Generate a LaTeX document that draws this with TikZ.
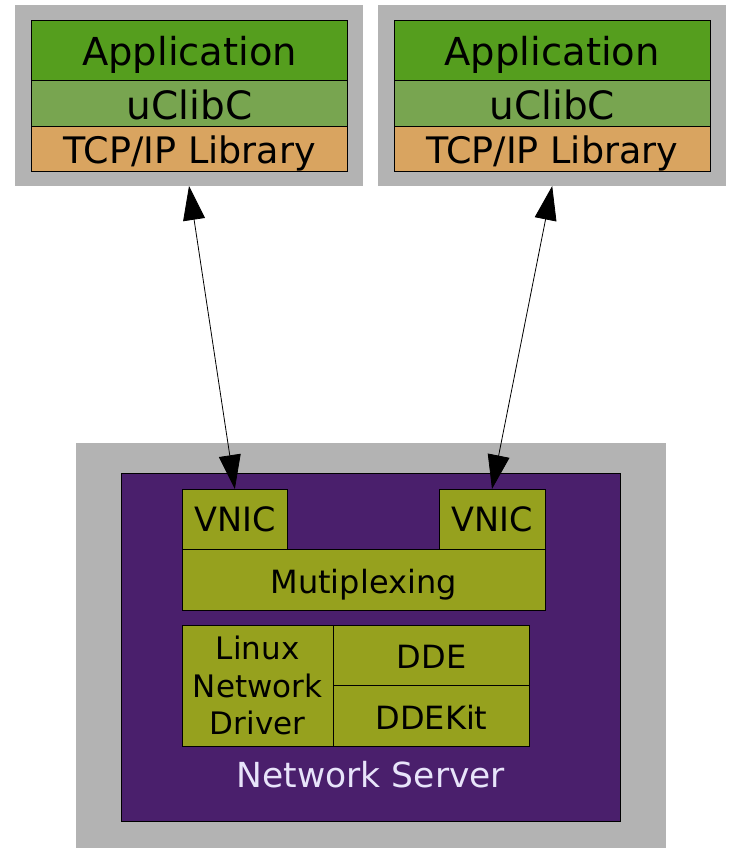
\documentclass[tikz,border=0pt]{standalone}
\usepackage{fontspec}
\setmainfont{DejaVu Sans}
\usetikzlibrary{arrows.meta}

\definecolor{shell}{HTML}{B3B3B3}
\definecolor{appgreen}{HTML}{559E1E}
\definecolor{libgreen}{HTML}{78A550}
\definecolor{tcporange}{HTML}{D9A460}
\definecolor{serverpurple}{HTML}{4A1F6C}
\definecolor{olive}{HTML}{96A11E}
\definecolor{lavender}{HTML}{E8E4FA}

\begin{document}
\begin{tikzpicture}[x=1pt,y=-1pt,
  shellbox/.style={fill=shell, inner sep=0pt, outer sep=0pt, anchor=north west},
  layer/.style={draw=black, line width=0.8pt, inner sep=0pt, outer sep=0pt,
                anchor=north west, text depth=0pt, align=center},
  bigtext/.style={font=\fontsize{38.5}{46}\selectfont},
  libtext/.style={font=\fontsize{39}{46}\selectfont},
  midtext/.style={font=\fontsize{36.5}{44}\selectfont},
  smalltext/.style={font=\fontsize{32}{38}\selectfont},
  vnictext/.style={font=\fontsize{33.5}{40}\selectfont},
  link/.style={line width=0.8pt, {Triangle[length=34pt,width=22pt]}-{Triangle[length=34pt,width=22pt]}}
]
\useasboundingbox (0,0) rectangle (729,848);

% client stacks
\node[shellbox, minimum width=348pt, minimum height=181pt] (clientL) at (15,5) {};
\node[layer, fill=appgreen, bigtext, minimum width=316pt, minimum height=59.6pt, text height=31pt] (appL) at (31.7,20.7) {Application};
\node[layer, fill=libgreen, libtext, minimum width=316pt, minimum height=46pt, text height=33.4pt] (libL) at (31.7,80.3) {uClibC};
\node[layer, fill=tcporange, midtext, minimum width=316pt, minimum height=45pt, text height=29pt] (tcpL) at (31.7,126.3) {TCP/IP Library};

\node[shellbox, minimum width=348pt, minimum height=181pt] (clientR) at (378.2,5) {};
\node[layer, fill=appgreen, bigtext, minimum width=316pt, minimum height=59.6pt, text height=31pt] (appR) at (394.2,20.7) {Application};
\node[layer, fill=libgreen, libtext, minimum width=316pt, minimum height=46pt, text height=33.4pt] (libR) at (394.2,80.3) {uClibC};
\node[layer, fill=tcporange, midtext, minimum width=316pt, minimum height=45pt, text height=29pt] (tcpR) at (394.2,126.3) {TCP/IP Library};

% network server
\node[shellbox, minimum width=589.7pt, minimum height=404.7pt] (serverShell) at (76,443.3) {};
\node[draw=black, line width=0.8pt, fill=serverpurple, inner sep=0pt, outer sep=0pt, anchor=north west,
      minimum width=499pt, minimum height=348.4pt] (server) at (121.3,473.3) {};

\node[layer, fill=olive, vnictext, minimum width=105.7pt, minimum height=60pt, text height=25.4pt] (vnicL) at (182,489) {VNIC};
\node[layer, fill=olive, vnictext, minimum width=106pt, minimum height=60pt, text height=25.4pt] (vnicR) at (439,489) {VNIC};
\node[layer, fill=olive, smalltext, minimum width=363pt, minimum height=61pt, text height=27.6pt] (mux) at (182,549) {Mutiplexing};

\node[draw=black, line width=0.8pt, inner sep=0pt, outer sep=0pt, anchor=north west, fill=olive,
      align=center, font=\fontsize{31}{37.5}\selectfont,
      minimum width=151.3pt, minimum height=121pt] (driver) at (182,625) {Linux\\Network\\Driver};
\node[layer, fill=olive, smalltext, minimum width=196.4pt, minimum height=60.7pt, text height=26pt] (dde) at (333.3,625) {DDE};
\node[layer, fill=olive, smalltext, minimum width=196.4pt, minimum height=60.3pt, text height=26.4pt] (ddekit) at (333.3,685.7) {DDEKit};

\node[anchor=base, inner sep=0pt, text=lavender, font=\fontsize{34.5}{40}\selectfont] (serverName) at (371,787.3) {Network Server};

% connections
\draw[link] (clientL.south) -- (vnicL.north);
\draw[link] (clientR.south) -- (vnicR.north);
\end{tikzpicture}
\end{document}
